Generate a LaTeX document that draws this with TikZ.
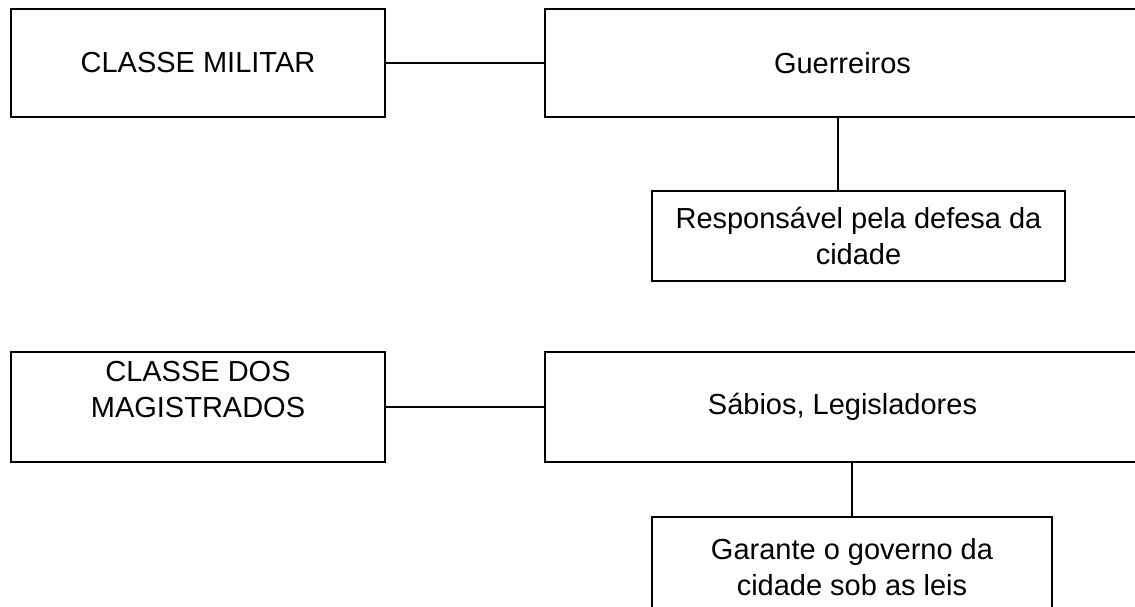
\documentclass[tikz,border=0pt]{standalone}
\usepackage{fontspec}
\setmainfont{Liberation Sans}
\usetikzlibrary{positioning}
\tikzset{
every rectangle node/.style={draw, line width=0.9pt, align=center, font=\fontsize{16.5}{20.5}\selectfont},
classbox/.style={rectangle, minimum width=7.48cm, minimum height=2.16cm},
groupbox/.style={rectangle, minimum width=11.9cm, minimum height=2.16cm},
rolebox/.style={rectangle, minimum width=8.26cm, minimum height=1.8cm},
}

\begin{document}
\begin{tikzpicture}[x=0.02cm, y=-0.02cm, line width=0.9pt]
    \useasboundingbox (0,0) rectangle (1135,607);

    %militar
    \node[classbox] (mil) at (198,63) {CLASSE MILITAR};
    \node[groupbox] (guer) at (842.5,63) {Guerreiros};
    \node[rolebox] (resp) at (858.5,236) {Responsável pela defesa da\\cidade};
    \coordinate (t1) at (838,0);

    %magistrados
    \node[classbox, minimum height=2.2cm] (mag) at (198,407) {CLASSE DOS\\MAGISTRADOS\\\mbox{}};
    \node[groupbox, minimum height=2.2cm] (sab) at (842.5,407) {Sábios, Legisladores};
    \node[rolebox, minimum width=8cm, minimum height=2cm] (gov) at (852,567) {Garante o governo da\\cidade sob as leis};

    %ligacoes
    \draw (mil) -- (guer);
    \draw (guer.south -| t1) -- (resp.north -| t1);
    \draw (mag) -- (sab);
    \draw (sab.south -| gov.north) -- (gov.north);
\end{tikzpicture}
\end{document}
